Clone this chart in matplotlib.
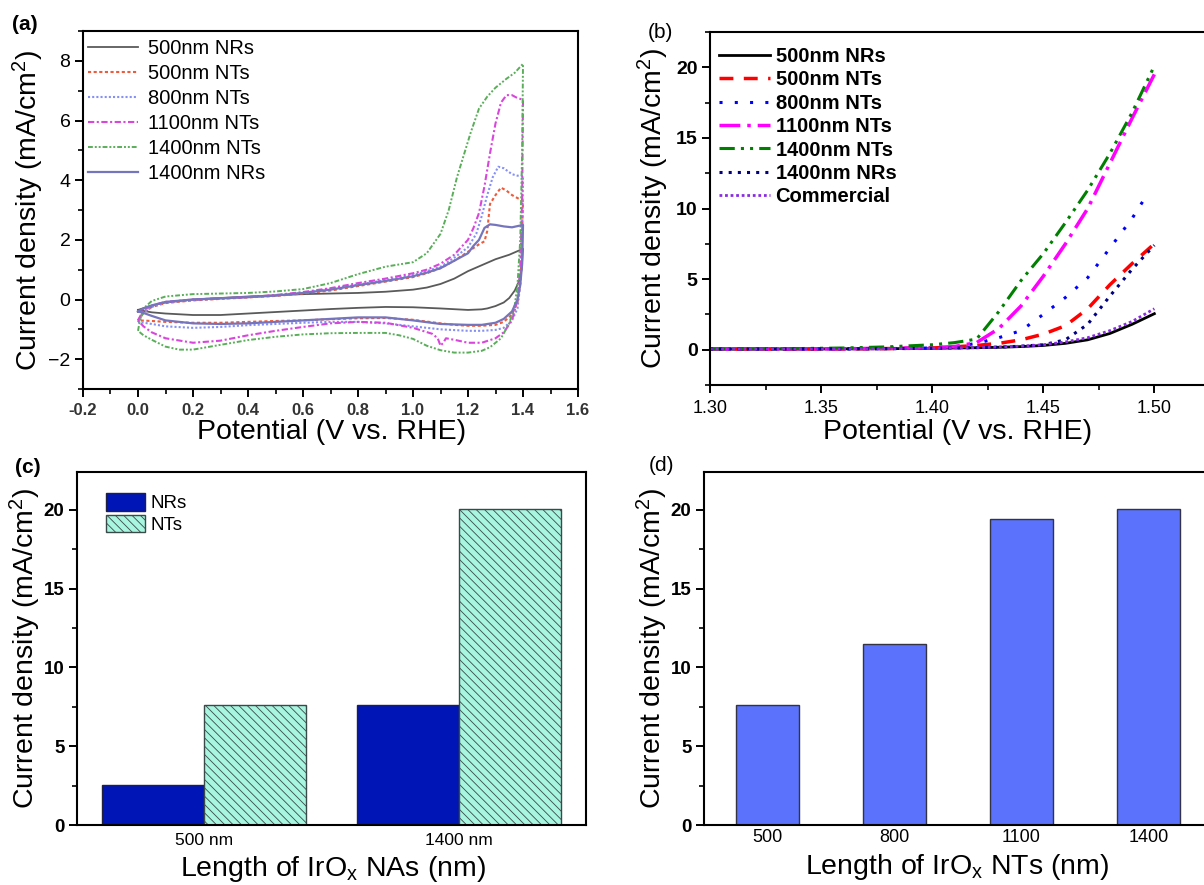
import matplotlib
matplotlib.use('Agg')
import matplotlib.pyplot as plt
from matplotlib.ticker import MultipleLocator

plt.rcParams['font.family'] = ['Liberation Sans', 'DejaVu Sans']
plt.rcParams['mathtext.default'] = 'regular'
plt.rcParams['axes.linewidth'] = 1.5
plt.rcParams['hatch.linewidth'] = 0.6

# ---------------- (a) cyclic voltammetry ----------------
cv_labels = ['500nm NRs', '500nm NTs', '800nm NTs', '1100nm NTs', '1400nm NTs', '1400nm NRs']

cv_500nr_v = [0, 0.05, 0.1, 0.2, 0.3, 0.4, 0.5, 0.6, 0.7, 0.8, 0.9, 1.0, 1.05, 1.1, 1.15, 1.2, 1.25, 1.3, 1.35, 1.4,
              1.395, 1.385, 1.37, 1.35, 1.33, 1.3, 1.27, 1.25, 1.2, 1.1, 1.0, 0.9, 0.8, 0.7, 0.6, 0.5, 0.4, 0.3, 0.2, 0.1, 0.05, 0]
cv_500nr_j = [-0.35, -0.2, -0.1, 0.0, 0.05, 0.1, 0.14, 0.18, 0.2, 0.22, 0.26, 0.33, 0.4, 0.52, 0.7, 0.95, 1.15, 1.35, 1.5, 1.7,
              1.0, 0.6, 0.3, 0.05, -0.1, -0.22, -0.3, -0.33, -0.35, -0.3, -0.26, -0.25, -0.28, -0.32, -0.37, -0.42, -0.47, -0.52, -0.52, -0.47, -0.43, -0.35]

cv_500nt_v = [0, 0.02, 0.05, 0.1, 0.2, 0.3, 0.4, 0.5, 0.6, 0.7, 0.8, 0.9, 1.0, 1.05, 1.1, 1.15, 1.2, 1.24, 1.26, 1.27, 1.28, 1.3, 1.32, 1.34, 1.36, 1.38, 1.4,
              1.395, 1.39, 1.38, 1.36, 1.33, 1.3, 1.25, 1.2, 1.15, 1.1, 1.0, 0.9, 0.8, 0.7, 0.6, 0.5, 0.4, 0.3, 0.2, 0.1, 0.05, 0]
cv_500nt_j = [-0.7, -0.45, -0.25, -0.12, -0.03, 0.02, 0.07, 0.12, 0.2, 0.3, 0.45, 0.6, 0.75, 0.88, 1.05, 1.3, 1.6, 1.85, 1.95, 2.3, 3.2, 3.5, 3.75, 3.65, 3.5, 3.4, 3.3,
              1.5, 0.5, -0.1, -0.5, -0.75, -0.85, -0.88, -0.88, -0.85, -0.8, -0.68, -0.62, -0.63, -0.66, -0.7, -0.72, -0.75, -0.78, -0.78, -0.75, -0.72, -0.7]

cv_800nt_v = [0, 0.02, 0.05, 0.1, 0.2, 0.3, 0.4, 0.5, 0.6, 0.7, 0.8, 0.9, 1.0, 1.05, 1.1, 1.15, 1.2, 1.23, 1.25, 1.27, 1.29, 1.31, 1.33, 1.36, 1.38, 1.4,
              1.397, 1.39, 1.38, 1.36, 1.33, 1.3, 1.25, 1.2, 1.1, 1.0, 0.9, 0.8, 0.7, 0.6, 0.5, 0.4, 0.3, 0.2, 0.1, 0.05, 0]
cv_800nt_j = [-0.75, -0.45, -0.25, -0.1, -0.02, 0.03, 0.08, 0.14, 0.22, 0.35, 0.5, 0.65, 0.82, 0.95, 1.1, 1.4, 1.75, 2.2, 2.8, 3.5, 4.1, 4.45, 4.4, 4.2, 4.15, 4.15,
              2.0, 0.5, -0.3, -0.7, -0.95, -1.02, -1.05, -1.05, -1.0, -0.9, -0.8, -0.75, -0.75, -0.78, -0.82, -0.86, -0.92, -0.95, -0.9, -0.82, -0.75]

cv_1100nt_v = [0, 0.02, 0.05, 0.1, 0.2, 0.3, 0.4, 0.5, 0.6, 0.7, 0.8, 0.9, 1.0, 1.05, 1.1, 1.15, 1.2, 1.22, 1.24, 1.26, 1.28, 1.3, 1.32, 1.34, 1.36, 1.38, 1.4,
               1.397, 1.39, 1.38, 1.36, 1.33, 1.3, 1.25, 1.2, 1.15, 1.12, 1.11, 1.1, 1.09, 1.07, 1.0, 0.9, 0.8, 0.7, 0.6, 0.5, 0.4, 0.3, 0.2, 0.1, 0.05, 0.02, 0]
cv_1100nt_j = [-0.7, -0.35, -0.2, -0.08, 0.0, 0.04, 0.08, 0.15, 0.25, 0.38, 0.55, 0.7, 0.88, 1.0, 1.2, 1.5, 2.0, 2.4, 2.9, 3.8, 4.9, 5.9, 6.6, 6.85, 6.85, 6.75, 6.7,
               3.5, 1.0, 0.0, -0.7, -1.1, -1.3, -1.45, -1.45, -1.35, -1.3, -1.45, -1.55, -1.3, -1.15, -0.95, -0.78, -0.75, -0.8, -0.92, -1.05, -1.2, -1.38, -1.45, -1.3, -1.1, -0.9, -0.7]

cv_1400nt_v = [0, 0.005, 0.02, 0.05, 0.1, 0.2, 0.3, 0.4, 0.5, 0.6, 0.7, 0.8, 0.9, 1.0, 1.05, 1.1, 1.13, 1.16, 1.19, 1.21, 1.24, 1.27, 1.3, 1.34, 1.37, 1.4,
               1.397, 1.39, 1.38, 1.37, 1.35, 1.32, 1.28, 1.25, 1.2, 1.15, 1.1, 1.05, 1.0, 0.95, 0.9, 0.8, 0.7, 0.6, 0.5, 0.4, 0.3, 0.2, 0.15, 0.1, 0.05, 0.02, 0]
cv_1400nt_j = [-1.05, -0.8, -0.3, -0.05, 0.1, 0.18, 0.2, 0.22, 0.27, 0.35, 0.55, 0.85, 1.1, 1.25, 1.55, 2.2, 3.0, 4.1, 5.0, 5.6, 6.4, 6.8, 7.1, 7.4, 7.6, 7.9,
               5.0, 2.0, 0.5, -0.2, -0.8, -1.3, -1.6, -1.72, -1.78, -1.78, -1.7, -1.55, -1.32, -1.2, -1.12, -1.12, -1.13, -1.17, -1.25, -1.36, -1.52, -1.68, -1.68, -1.58, -1.35, -1.2, -1.05]

cv_1400nr_v = [0, 0.02, 0.05, 0.1, 0.2, 0.3, 0.4, 0.5, 0.6, 0.7, 0.8, 0.9, 1.0, 1.05, 1.1, 1.15, 1.18, 1.2, 1.22, 1.24, 1.26, 1.28, 1.3, 1.33, 1.36, 1.4,
               1.397, 1.39, 1.38, 1.36, 1.33, 1.3, 1.25, 1.2, 1.1, 1.0, 0.9, 0.8, 0.7, 0.6, 0.5, 0.4, 0.3, 0.2, 0.1, 0.05, 0.02, 0]
cv_1400nr_j = [-0.4, -0.3, -0.2, -0.08, 0.0, 0.04, 0.08, 0.13, 0.22, 0.33, 0.48, 0.62, 0.78, 0.9, 1.05, 1.3, 1.45, 1.55, 1.8, 2.0, 2.4, 2.52, 2.5, 2.45, 2.42, 2.5,
               1.2, 0.5, 0.0, -0.4, -0.65, -0.78, -0.85, -0.85, -0.82, -0.7, -0.6, -0.6, -0.65, -0.7, -0.75, -0.8, -0.82, -0.8, -0.7, -0.55, -0.45, -0.4]

# ---------------- (b) polarisation curves ----------------
lsv_labels = ['500nm NRs', '500nm NTs', '800nm NTs', '1100nm NTs', '1400nm NTs', '1400nm NRs', 'Commercial']
lsv_v = [1.30, 1.32, 1.34, 1.36, 1.38, 1.40, 1.41, 1.42, 1.43, 1.44, 1.45, 1.46, 1.47, 1.48, 1.49, 1.50]
lsv_v_800 = [1.30, 1.32, 1.34, 1.36, 1.38, 1.40, 1.41, 1.42, 1.43, 1.44, 1.45, 1.46, 1.47, 1.48, 1.49, 1.496]
lsv_500nr = [0.05, 0.05, 0.05, 0.06, 0.07, 0.1, 0.12, 0.14, 0.17, 0.22, 0.3, 0.45, 0.7, 1.15, 1.8, 2.55]
lsv_500nt = [0.05, 0.05, 0.05, 0.06, 0.08, 0.12, 0.2, 0.3, 0.45, 0.7, 1.1, 1.7, 2.9, 4.6, 6.1, 7.5]
lsv_800nt = [0.05, 0.05, 0.05, 0.06, 0.08, 0.12, 0.2, 0.45, 0.85, 1.35, 2.5, 3.7, 5.1, 7.2, 9.3, 10.8]
lsv_1100nt = [0.05, 0.05, 0.06, 0.07, 0.1, 0.15, 0.22, 0.5, 1.5, 3.1, 5.2, 7.5, 10.0, 13.2, 16.4, 19.5]
lsv_1400nt = [0.05, 0.06, 0.08, 0.12, 0.2, 0.35, 0.5, 0.75, 2.7, 4.9, 6.8, 9.0, 11.3, 13.9, 16.8, 20.1]
lsv_1400nr = [0.05, 0.05, 0.05, 0.06, 0.07, 0.1, 0.12, 0.15, 0.18, 0.25, 0.35, 0.7, 1.8, 3.8, 5.7, 7.4]
lsv_comm = [0.05, 0.05, 0.05, 0.06, 0.07, 0.1, 0.12, 0.15, 0.19, 0.25, 0.35, 0.55, 0.85, 1.35, 2.0, 2.9]

# ---------------- (c) NRs vs NTs ----------------
c_categories = ['500 nm', '1400 nm']
c_nrs = [2.55, 7.6]
c_nts = [7.6, 20.05]

# ---------------- (d) NT length ----------------
d_categories = ['500', '800', '1100', '1400']
d_values = [7.6, 11.5, 19.4, 20.05]

W, H = 1204, 885
fig = plt.figure(figsize=(W / 100, H / 100), dpi=100)


def box(l, t, r, b):
    return [l / W, 1 - b / H, (r - l) / W, (b - t) / H]


ax_a = fig.add_axes(box(83, 31, 578, 389))
ax_b = fig.add_axes(box(710, 32, 1221, 385))
ax_c = fig.add_axes(box(77, 472, 586, 825))
ax_d = fig.add_axes(box(704, 472, 1212, 825))

# ---- (a)
cv_series = [(cv_500nr_v, cv_500nr_j), (cv_500nt_v, cv_500nt_j), (cv_800nt_v, cv_800nt_j),
             (cv_1100nt_v, cv_1100nt_j), (cv_1400nt_v, cv_1400nt_j), (cv_1400nr_v, cv_1400nr_j)]
cv_colors = ['#5a5a5a', '#ee5a3a', '#8590f5', '#d846dc', '#5aae5a', '#7575bd']
cv_styles = ['-', (0, (1.5, 1.2)), (0, (1, 1)), (0, (3, 1.2, 1, 1.2)), (0, (2.5, 1, 1, 1, 1, 1)), '-']
cv_widths = [1.3, 1.5, 1.5, 1.5, 1.4, 1.6]
for (v, j), lab, col, ls, lw in zip(cv_series, cv_labels, cv_colors, cv_styles, cv_widths):
    ax_a.plot(v, j, color=col, ls=ls, lw=lw, label=lab)
ax_a.set_xlim(-0.2, 1.6)
ax_a.set_ylim(-3, 9)
ax_a.xaxis.set_major_locator(MultipleLocator(0.2))
ax_a.xaxis.set_minor_locator(MultipleLocator(0.1))
ax_a.yaxis.set_major_locator(MultipleLocator(2))
ax_a.yaxis.set_minor_locator(MultipleLocator(1))
ax_a.xaxis.set_major_formatter(plt.FuncFormatter(lambda x, p: '%.1f' % x))
ax_a.tick_params(axis='x', labelsize=12, pad=4)
for t in ax_a.get_xticklabels():
    t.set_fontweight('bold')
    t.set_color('#333333')
ax_a.tick_params(axis='y', labelsize=14, pad=3)
ax_a.legend(loc='upper left', bbox_to_anchor=(0.01, 0.978), frameon=False, fontsize=14.5,
            handlelength=2.5, handletextpad=0.5, labelspacing=0.3, borderaxespad=0, borderpad=0)
ax_a.set_xlabel('Potential (V vs. RHE)', fontsize=20.5)
ax_a.set_ylabel('Current density (mA/cm$^2$)', fontsize=20.5)
ax_a.xaxis.set_label_coords(0.503, -0.12)
ax_a.yaxis.set_label_coords(-0.111, 0.5)

# ---- (b)
lsv_series = [(lsv_v, lsv_500nr), (lsv_v, lsv_500nt), (lsv_v_800, lsv_800nt), (lsv_v, lsv_1100nt),
              (lsv_v, lsv_1400nt), (lsv_v, lsv_1400nr), (lsv_v, lsv_comm)]
lsv_colors = ['black', 'red', 'blue', 'magenta', 'green', 'navy', '#8a2be2']
lsv_styles = ['-', (0, (4, 3)), (0, (1, 4)), (0, (6, 2, 1, 2)), (0, (5, 2, 1, 2, 1, 2)), (0, (1, 2)), (0, (1, 1))]
lsv_widths = [2.0, 2.5, 2.2, 2.5, 2.2, 2.2, 2.0]
for (v, j), lab, col, ls, lw in zip(lsv_series, lsv_labels, lsv_colors, lsv_styles, lsv_widths):
    ax_b.plot(v, j, color=col, ls=ls, lw=lw, label=lab)
ax_b.set_xlim(1.30, 1.53)
ax_b.set_ylim(-2.5, 22.5)
ax_b.xaxis.set_major_locator(MultipleLocator(0.05))
ax_b.xaxis.set_minor_locator(MultipleLocator(0.025))
ax_b.yaxis.set_major_locator(MultipleLocator(5))
ax_b.yaxis.set_minor_locator(MultipleLocator(2.5))
ax_b.xaxis.set_major_formatter(plt.FuncFormatter(lambda x, p: '%.2f' % x))
ax_b.tick_params(axis='x', labelsize=13, pad=5)
ax_b.tick_params(axis='y', labelsize=14, pad=3)
for t in ax_b.get_yticklabels():
    t.set_fontweight('bold')
leg_b = ax_b.legend(loc='upper left', bbox_to_anchor=(0.018, 0.958), frameon=False, fontsize=14.5,
                    handlelength=2.5, handletextpad=0.3, labelspacing=0.22, borderaxespad=0, borderpad=0)
for t in leg_b.get_texts():
    t.set_fontweight('bold')
ax_b.set_xlabel('Potential (V vs. RHE)', fontsize=20.5)
ax_b.set_ylabel('Current density (mA/cm$^2$)', fontsize=20.5)
ax_b.xaxis.set_label_coords(0.485, -0.133)
ax_b.yaxis.set_label_coords(-0.11, 0.5)

# ---- (c)
xc = list(range(len(c_categories)))
ax_c.bar([x - 0.2 for x in xc], c_nrs, width=0.4, color='#0015b5', edgecolor='#202040', lw=1, label='NRs')
ax_c.bar([x + 0.2 for x in xc], c_nts, width=0.4, color='#a8f5e0', edgecolor='#3a4a48', lw=1,
         hatch='\\\\\\\\', label='NTs')
ax_c.set_xlim(-0.5, 1.5)
ax_c.set_ylim(0, 22.4)
ax_c.set_xticks(xc)
ax_c.set_xticklabels(c_categories)
ax_c.yaxis.set_major_locator(MultipleLocator(5))
ax_c.yaxis.set_minor_locator(MultipleLocator(2.5))
ax_c.tick_params(axis='x', length=0, labelsize=12.5, pad=6)
ax_c.tick_params(axis='y', labelsize=13.5, pad=3)
for t in ax_c.get_yticklabels():
    t.set_fontweight('bold')
ax_c.legend(loc='upper left', bbox_to_anchor=(0.057, 0.94), frameon=False, fontsize=13.5,
            handlelength=2.1, handleheight=1.05, handletextpad=0.25, labelspacing=0.15,
            borderaxespad=0, borderpad=0)
ax_c.set_xlabel('Length of IrO$_x$ NAs (nm)', fontsize=20.5)
ax_c.set_ylabel('Current density (mA/cm$^2$)', fontsize=20.5)
ax_c.xaxis.set_label_coords(0.503, -0.125)
ax_c.yaxis.set_label_coords(-0.102, 0.5)

# ---- (d)
xd = list(range(len(d_categories)))
ax_d.bar(xd, d_values, width=0.5, color='#5a72fc', edgecolor='#333344', lw=1)
ax_d.set_xlim(-0.5, 3.5)
ax_d.set_ylim(0, 22.4)
ax_d.set_xticks(xd)
ax_d.set_xticklabels(d_categories)
ax_d.yaxis.set_major_locator(MultipleLocator(5))
ax_d.yaxis.set_minor_locator(MultipleLocator(2.5))
ax_d.tick_params(axis='x', length=0, labelsize=13, pad=3)
ax_d.tick_params(axis='y', labelsize=13.5, pad=3)
for t in ax_d.get_yticklabels():
    t.set_fontweight('bold')
ax_d.set_xlabel('Length of IrO$_x$ NTs (nm)', fontsize=20.5)
ax_d.set_ylabel('Current density (mA/cm$^2$)', fontsize=20.5)
ax_d.xaxis.set_label_coords(0.498, -0.118)
ax_d.yaxis.set_label_coords(-0.102, 0.5)

for ax in (ax_a, ax_b, ax_c, ax_d):
    ax.tick_params(which='major', direction='out', length=6, width=1.4)
    ax.tick_params(which='minor', direction='out', length=3.5, width=1.2)
    ax.xaxis.label.set_verticalalignment('center')
    ax.yaxis.label.set_verticalalignment('center')
for ax in (ax_c, ax_d):
    ax.tick_params(axis='x', which='both', length=0)

fig.text(25 / W, 1 - 24 / H, '(a)', fontsize=15, fontweight='bold', ha='center', va='center')
fig.text(660 / W, 1 - 32 / H, '(b)', fontsize=15, ha='center', va='center')
fig.text(28 / W, 1 - 467 / H, '(c)', fontsize=15, fontweight='bold', ha='center', va='center')
fig.text(662 / W, 1 - 465 / H, '(d)', fontsize=15, ha='center', va='center')

fig.savefig('out.png', dpi=100)
